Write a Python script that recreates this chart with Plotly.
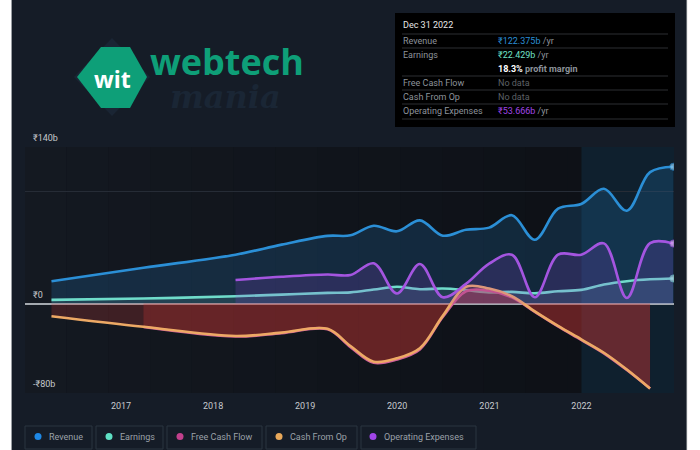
import plotly.graph_objects as go

dates = ["2016-03-31","2017-03-31","2018-03-31","2018-09-30","2019-03-31",
         "2019-06-30","2019-09-30","2019-12-31","2020-03-31","2020-06-30","2020-09-30","2020-12-31",
         "2021-03-31","2021-06-30","2021-09-30","2021-12-31",
         "2022-03-31","2022-06-30","2022-09-30","2022-12-31"]
revenue = [20,32,43.7,52.7,60.5,61,69.6,64.6,74.4,60.7,66,67.9,79,57,84.8,89,102.6,83,117.5,122.375]
earnings = [3.3,4.5,6.5,8,9.5,10,12.5,15,12.8,13.4,12,10,10.4,9.2,11,12.2,17,20,21.7,22.429]
opex_dates = dates[2:]
opex = [21,24,26,25.5,36,9,35.4,5.6,17.6,35.7,43.7,5.6,43.7,43.7,53.8,5,54,53.666]
cfo_dates = dates[:-1]
cfo = [-11.3,-20.8,-29,-26,-22.6,-38,-52,-49,-40,-11,15,13.4,6.5,-7,-20,-32,-44,-59,-76]
fcf_dates = dates[1:-1]
fcf = [-21,-29.5,-26.5,-23,-39,-53,-50,-41,-12,11,11.5,5.5,-7.5,-20.5,-32.5,-44.5,-59.5,-76]
y_ticks = [-80,0,100,140]
y_labels = {140:"₹140b",0:"₹0",-80:"-₹80b"}
x_ticks = ["2017-01-01","2018-01-01","2019-01-01","2020-01-01","2021-01-01","2022-01-01"]
x_labels = ["2017","2018","2019","2020","2021","2022"]
legend_names = ["Revenue","Earnings","Free Cash Flow","Cash From Op","Operating Expenses"]
legend_colors = ["#1e88e5","#5fe0c4","#c2408c","#e8a85a","#a045e8"]

L,R,T,B = 25,674,147,393
px = lambda v:(v-L)/(R-L)
py = lambda v:(B-v)/(B-T)
FONT="Roboto"
BG="#151c27"

fig = go.Figure()
def series(name,x,y,line,fill,end=None):
    fig.add_trace(go.Scatter(x=x,y=y,name=name,mode="lines+markers",
        line=dict(color=line,width=2.6,shape="spline",smoothing=1.0),
        fill="tozeroy",fillcolor=fill,
        marker=dict(size=[0]*(len(y)-1)+[(7 if end else 0)],color=end or line,line=dict(color=line,width=1 if end else 0)),
        showlegend=False,hoverinfo="skip"))
series("Revenue",dates,revenue,"#2b8fd6","rgba(38,125,190,0.22)","#8cc8ee")
series("Earnings",dates,earnings,"#6fdcca","rgba(120,220,210,0.13)","#a8f0e2")
series("Free Cash Flow",fcf_dates,fcf,"#d0609a","rgba(200,50,50,0.30)")
series("Cash From Op",cfo_dates,cfo,"#eda965","rgba(190,55,50,0.25)")
series("Operating Expenses",opex_dates,opex,"#a455e0","rgba(150,70,220,0.18)","#d6a8f2")

shapes=[]; ann=[]
def rect(x0,y0,x1,y1,fill,line=None,w=1):
    shapes.append(dict(type="rect",xref="paper",yref="paper",x0=px(x0),x1=px(x1),y0=py(y0),y1=py(y1),
        fillcolor=fill,line=dict(color=line or "rgba(0,0,0,0)",width=w if line else 0),layer="above"))
def hline(x0,x1,y,c):
    shapes.append(dict(type="line",xref="paper",yref="paper",x0=px(x0),x1=px(x1),y0=py(y),y1=py(y),line=dict(color=c,width=1),layer="above"))
def text(x,y,s,size=9,color="#8d939b",anchor="left",family=FONT):
    ann.append(dict(xref="paper",yref="paper",x=px(x),y=py(y),text=s,showarrow=False,xanchor=anchor,yanchor="middle",
        xshift=0,borderpad=0,font=dict(size=size,color=color,family=family)))

# plot background darkening from left to right
steps=14
for i in range(steps):
    t=i/(steps-1)
    c=f"rgb({int(20-6*t)},{int(25-8*t)},{int(33-10*t)})"
    shapes.append(dict(type="rect",xref="paper",yref="paper",x0=i/steps*0.9,x1=(i+1)/steps*0.9 if i<steps-1 else 1,y0=0,y1=1,
        fillcolor=c,line=dict(width=0),layer="below"))
# shaded last-twelve-months band
shapes.append(dict(type="rect",xref="x",yref="paper",x0="2022-01-01",x1="2023-01-03",y0=0,y1=1,
    fillcolor="rgba(20,95,140,0.20)",line=dict(width=0),layer="below"))

# y tick labels sitting above their grid lines
for v,s in y_labels.items():
    ann.append(dict(xref="paper",yref="y",x=px(31),y=v,text=s,showarrow=False,xanchor="left",yanchor="bottom",
        yshift=2,font=dict(size=9,color="#c6c9cd",family=FONT)))

# logo
shapes.append(dict(type="path",xref="paper",yref="paper",layer="above",line=dict(width=0),fillcolor="#1a2534",
    path=f"M {px(112)} {py(38)} L {px(150)} {py(77)} L {px(112)} {py(116)} L {px(74)} {py(77)} Z"))
pts=[(77,77),(101,47),(130,47),(147,77),(130,108),(101,108)]
shapes.append(dict(type="path",xref="paper",yref="paper",layer="above",line=dict(width=0),fillcolor="#0e9f78",
    path="M "+" L ".join(f"{px(a)} {py(b)}" for a,b in pts)+" Z"))
text(112,79,"<b>wit</b>",23,"#ffffff","center","Open Sans")
text(149,61,"<b>webtech</b>",36,"#0e9f78","left","Open Sans")
text(169,97,"<b><i>mania</i></b>",32,"#1a2635","left","DejaVu Serif")

# info box
rect(395,13,675,127,"#000000")
for y in [34,48,76,90,104,119]:
    hline(402,668,y,"#2c2f33")
text(402,25,"Dec 31 2022",9,"#e6e6e6")
rows=[("Revenue",41),("Earnings",55),("Free Cash Flow",83),("Cash From Op",97),("Operating Expenses",111)]
for s,y in rows:
    text(402,y,s,9)
text(497,41,"<span style='color:#2b8fd6'>₹122.375b</span> /yr")
text(497,55,"<span style='color:#6fe0c8'>₹22.429b</span> /yr")
text(497,69,"<b><span style='color:#ffffff'>18.3%</span> profit margin</b>")
text(497,83,"No data",9,"#5d6166")
text(497,97,"No data",9,"#5d6166")
text(497,111,"<span style='color:#a045e8'>₹53.666b</span> /yr")

# legend chips
chips=[(25,92,38,48),(96,163,109,119),(167,262,180,190),(266,357,279,289),(361,476,373,383)]
for (x0,x1,dx,tx),n,c in zip(chips,legend_names,legend_colors):
    rect(x0,426,x1,449,BG,"#2b3440",1)
    shapes.append(dict(type="circle",xref="paper",yref="paper",x0=px(dx-3.5),x1=px(dx+3.5),y0=py(436.5+3.5),y1=py(436.5-3.5),
        fillcolor=c,line=dict(width=0),layer="above"))
    text(tx,436.5,n,9,"#9ba1a8")

# page edges
rect(-2,-2,11,452,"#ffffff"); rect(11,-2,12,452,"#9a9ea3")
rect(687,-2,702,452,"#ffffff"); rect(686.5,-2,687.2,452,"#b5b8bb")

fig.update_layout(width=700,height=450,autosize=False,
    margin=dict(l=L,r=700-R,t=T,b=450-B),paper_bgcolor=BG,plot_bgcolor="#10151c",
    font=dict(family=FONT,size=9,color="#c6c9cd"),showlegend=False,shapes=shapes,annotations=ann,
    xaxis=dict(type="date",range=["2015-12-17","2023-01-03"],tickmode="array",tickvals=x_ticks,ticktext=x_labels,
        showgrid=False,zeroline=False,ticks="",tickfont=dict(size=9,color="#c6c9cd",family=FONT),
        showline=False,ticklabelstandoff=6),
    yaxis=dict(range=[-80,140],tickmode="array",tickvals=y_ticks,showticklabels=False,showgrid=True,
        gridcolor="#262c36",gridwidth=1,zeroline=True,zerolinecolor="#a4a9af",zerolinewidth=1.5,ticks=""))
fig.write_html("out.html",post_script="document.body.style.margin='0';",config={"displayModeBar":False})
